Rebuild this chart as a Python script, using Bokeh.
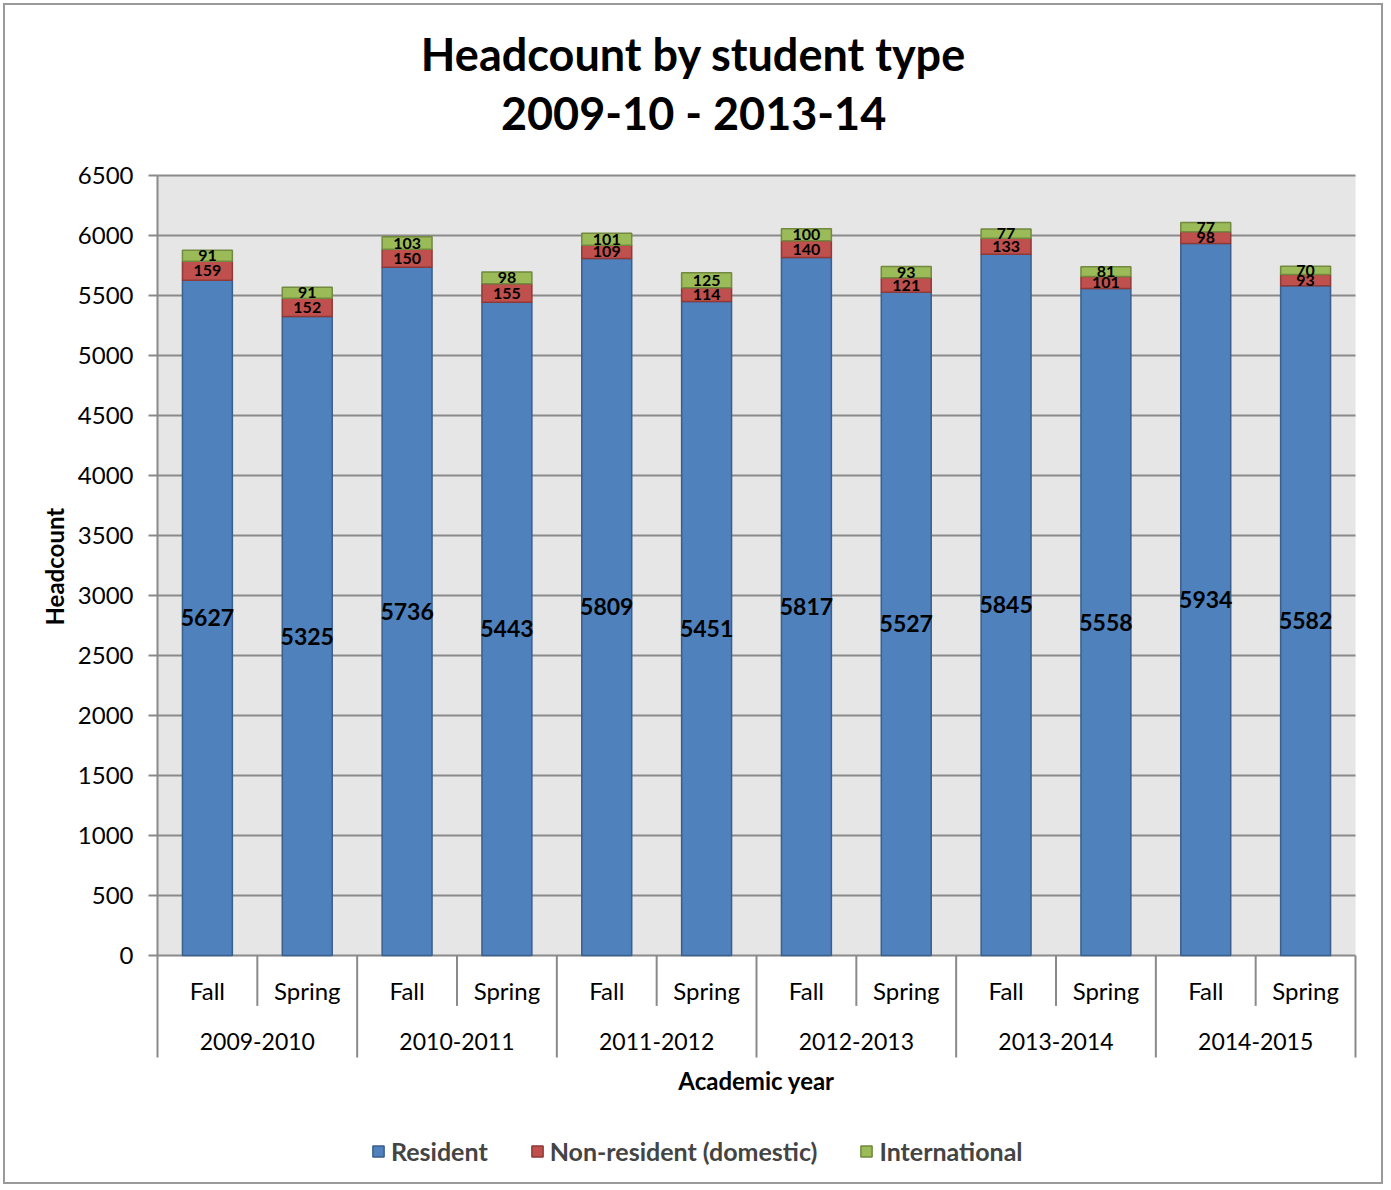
from bokeh.plotting import figure
from bokeh.models import Range1d, FixedTicker, Legend, LegendItem, ColumnDataSource, Title
from bokeh.core.properties import value
from bokeh.embed import file_html
from bokeh.resources import INLINE

years = ["2009-2010", "2010-2011", "2011-2012", "2012-2013", "2013-2014", "2014-2015"]
terms = ["Fall", "Spring"]
resident = [5627, 5325, 5736, 5443, 5809, 5451, 5817, 5527, 5845, 5558, 5934, 5582]
nonres = [159, 152, 150, 155, 109, 114, 140, 121, 133, 101, 98, 93]
intl = [91, 91, 103, 98, 101, 125, 100, 93, 77, 81, 77, 70]
y_ticks = list(range(0, 6501, 500))
title_lines = ["Headcount by student type", "2009-10 - 2013-14"]

FONT = "Lato"
GRID = "#8a8a8a"
n = len(resident)
xs = [i + 0.5 for i in range(n)]
term_labels = [terms[i % 2] for i in range(n)]
YMAX = 6500

src = ColumnDataSource(dict(x=xs, Resident=resident, NonRes=nonres, Intl=intl))

# canvas 1380x1181 at (5,5); frame covers everything right of the y axis
p = figure(width=1380, height=1181, output_backend="svg", toolbar_location=None,
           x_range=Range1d(-0.02, 12.02), y_range=Range1d(-1925, 7917),
           x_axis_location=None,
           min_border_left=150, min_border_right=28, min_border_top=0,
           min_border_bottom=0, outline_line_color=None,
           background_fill_color="white", border_fill_color="white")
p.styles = {"margin-left": "3px", "margin-top": "3px", "border": "2px solid #9a9a9a"}
p.xgrid.visible = False
p.ygrid.visible = False

# plot-area background
p.quad(left=[0], right=[n], bottom=[0], top=[YMAX], fill_color="#e6e6e6",
       line_color=None, level="image")
# gridlines
g = p.segment(x0=[0] * len(y_ticks), y0=y_ticks, x1=[n] * len(y_ticks), y1=y_ticks,
              line_color=GRID, line_width=2)
g.level = "underlay"

# y axis (ticks + labels)
p.yaxis.ticker = FixedTicker(ticks=y_ticks)
p.yaxis.minor_tick_line_color = None
p.yaxis.major_tick_in = 2
p.yaxis.major_tick_out = 7
p.yaxis.major_tick_line_color = GRID
p.yaxis.major_tick_line_width = 2
p.yaxis.axis_line_color = None
p.yaxis.major_label_text_font = FONT
p.yaxis.major_label_text_font_size = "24px"
p.yaxis.major_label_text_color = "black"
p.yaxis.major_label_standoff = 15

p.add_layout(Title(text="Headcount", align="left", offset=561, text_font=FONT,
                   text_font_size="24px", text_font_style="bold",
                   text_color="black", standoff=12), "left")

# stacked bars
colors = ["#4f81bd", "#c0504d", "#9bbb59"]
lines = ["#3a5f8c", "#8e3a38", "#72893f"]
rs = p.vbar_stack(["Resident", "NonRes", "Intl"], x="x", width=0.5, source=src,
                  color=colors, line_width=1.5)
for r, lc in zip(rs, lines):
    r.glyph.line_color = lc

# data labels
res_y = [r / 2 for r in resident]
nr_y = [r + a / 2 for r, a in zip(resident, nonres)]
in_y = [r + a + b / 2 for r, a, b in zip(resident, nonres, intl)]
common = dict(text_font=value(FONT), text_font_style="bold", text_align="center",
              text_baseline="middle", text_color="black")
p.text(x=xs, y=res_y, text=[str(v) for v in resident], text_font_size="23px", **common)
p.text(x=xs, y=nr_y, text=[str(v) for v in nonres], text_font_size="16px", **common)
p.text(x=xs, y=in_y, text=[str(v) for v in intl], text_font_size="16px", **common)

# y axis line + category separators
bounds = list(range(0, n + 1))
p.segment(x0=[0], y0=[0], x1=[0], y1=[YMAX], line_color=GRID, line_width=2)
seg_y1 = [-850 if b % 2 == 0 else -420 for b in bounds]
p.segment(x0=bounds, y0=[0] * len(bounds), x1=bounds, y1=seg_y1,
          line_color=GRID, line_width=2)
plain = dict(text_font=value(FONT), text_align="center", text_baseline="middle",
             text_color="black")
p.text(x=xs, y=[-290] * n, text=term_labels, text_font_size="24px", **plain)
year_x = [2 * i + 1 for i in range(len(years))]
p.text(x=year_x, y=[-715] * len(years), text=years, text_font_size="23px", **plain)
p.text(x=[n / 2], y=[-1042], text=["Academic year"], text_font_size="24px",
       text_font_style="bold", **plain)

# chart title (centred on the whole chart)
p.text(x=[5.37, 5.37], y=[7510, 7020], text=title_lines, text_font_size="45px",
       text_font_style="bold", **plain)

legend = Legend(items=[LegendItem(label="Resident", renderers=[rs[0]]),
                       LegendItem(label="Non-resident (domestic)", renderers=[rs[1]]),
                       LegendItem(label="International", renderers=[rs[2]])],
                orientation="horizontal", location=(216, 20),
                label_text_font=FONT, label_text_font_size="25px",
                label_text_font_style="bold", glyph_width=14, glyph_height=14,
                spacing=42, label_standoff=6, border_line_color=None,
                background_fill_alpha=0, padding=4, margin=0)
p.add_layout(legend, "center")

open("out.html", "w").write(file_html(p, INLINE))
